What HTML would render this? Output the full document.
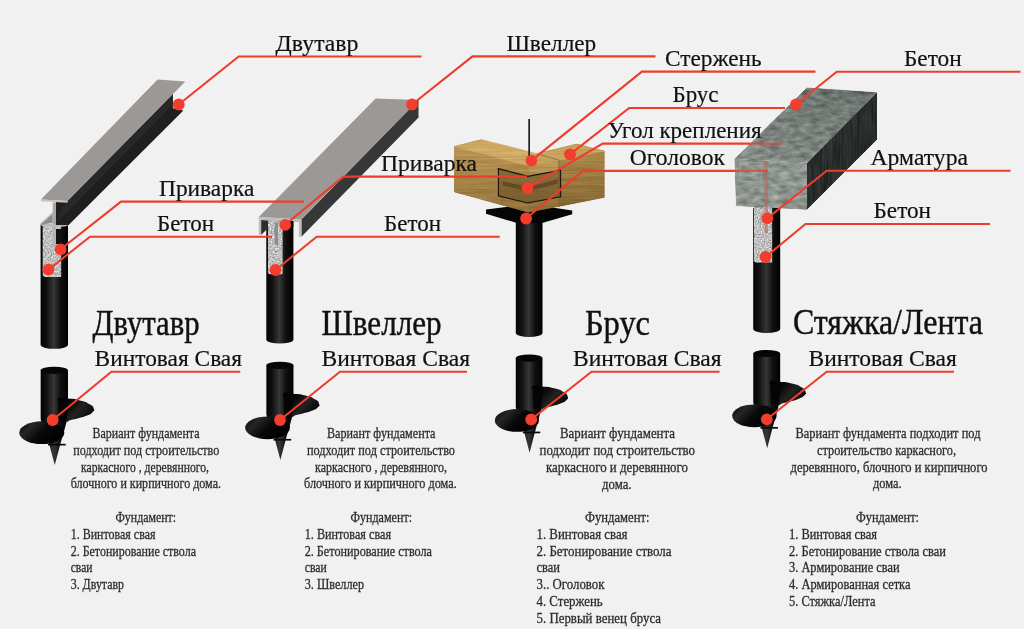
<!DOCTYPE html>
<html lang="ru"><head><meta charset="utf-8"><title>Винтовая свая — варианты фундамента</title>
<style>
html,body{margin:0;padding:0;background:#f1f1f1;}
body{width:1024px;height:629px;overflow:hidden;}
svg{display:block;will-change:transform;font-family:"Liberation Serif","DejaVu Serif",serif;}
</style></head><body>
<svg width="1024" height="629" viewBox="0 0 1024 629">
<defs>
<linearGradient id="cyl" x1="0" x2="1" y1="0" y2="0">
<stop offset="0" stop-color="#030303"/><stop offset="0.22" stop-color="#111"/><stop offset="0.48" stop-color="#373737"/><stop offset="0.72" stop-color="#101010"/><stop offset="1" stop-color="#010101"/>
</linearGradient>
<linearGradient id="bladeU" x1="0" x2="1" y1="0" y2="0.6">
<stop offset="0" stop-color="#000"/><stop offset="0.35" stop-color="#080808"/><stop offset="0.65" stop-color="#222"/><stop offset="1" stop-color="#060606"/>
</linearGradient>
<linearGradient id="bladeL" x1="0" x2="1" y1="0" y2="0.5">
<stop offset="0" stop-color="#020202"/><stop offset="0.3" stop-color="#262626"/><stop offset="0.6" stop-color="#080808"/><stop offset="1" stop-color="#000"/>
</linearGradient>
<filter id="speck" x="0" y="0" width="100%" height="100%" color-interpolation-filters="sRGB">
<feTurbulence type="fractalNoise" baseFrequency="0.7" numOctaves="2" seed="3" result="n"/>
<feColorMatrix in="n" type="matrix" values="1 0 0 0 0  1 0 0 0 0  1 0 0 0 0  0 0 0 0 1" result="g"/>
<feComposite in="SourceGraphic" in2="g" operator="arithmetic" k1="0" k2="1" k3="0.7" k4="-0.33" result="c"/>
<feComposite in="c" in2="SourceGraphic" operator="in"/>
</filter>
<filter id="stone" x="0" y="0" width="100%" height="100%" color-interpolation-filters="sRGB">
<feTurbulence type="fractalNoise" baseFrequency="0.10 0.22" numOctaves="4" seed="7" result="n"/>
<feColorMatrix in="n" type="matrix" values="1 0 0 0 0  1 0 0 0 0  1 0 0 0 0  0 0 0 0 1" result="g"/>
<feComposite in="SourceGraphic" in2="g" operator="arithmetic" k1="0" k2="1" k3="0.34" k4="-0.17" result="c"/>
<feComposite in="c" in2="SourceGraphic" operator="in"/>
</filter>
<filter id="stoned" x="0" y="0" width="100%" height="100%" color-interpolation-filters="sRGB">
<feTurbulence type="fractalNoise" baseFrequency="0.45 0.03" numOctaves="3" seed="11" result="n"/>
<feColorMatrix in="n" type="matrix" values="1 0 0 0 0  1 0 0 0 0  1 0 0 0 0  0 0 0 0 1" result="g"/>
<feComposite in="SourceGraphic" in2="g" operator="arithmetic" k1="0" k2="1" k3="0.16" k4="-0.08" result="c"/>
<feComposite in="c" in2="SourceGraphic" operator="in"/>
</filter>
<filter id="grain" x="0" y="0" width="100%" height="100%" color-interpolation-filters="sRGB">
<feTurbulence type="fractalNoise" baseFrequency="0.02 0.55" numOctaves="3" seed="5" result="n"/>
<feColorMatrix in="n" type="matrix" values="1 0 0 0 0  1 0 0 0 0  1 0 0 0 0  0 0 0 0 1" result="g"/>
<feComposite in="SourceGraphic" in2="g" operator="arithmetic" k1="0" k2="1" k3="0.16" k4="-0.08" result="c"/>
<feComposite in="c" in2="SourceGraphic" operator="in"/>
</filter>
<linearGradient id="ctop" x1="0.7" x2="0.3" y1="0" y2="1"><stop offset="0" stop-color="#6c736f"/><stop offset="1" stop-color="#838a85"/></linearGradient>
<linearGradient id="woodL" x1="0" x2="0" y1="0" y2="1"><stop offset="0" stop-color="#bb9755"/><stop offset="1" stop-color="#93723b"/></linearGradient>
<linearGradient id="woodM" x1="0" x2="0" y1="0" y2="1"><stop offset="0" stop-color="#c09c59"/><stop offset="1" stop-color="#8d6d37"/></linearGradient>
<linearGradient id="woodR" x1="0" x2="0" y1="0" y2="1"><stop offset="0" stop-color="#aa8748"/><stop offset="1" stop-color="#846632"/></linearGradient>

</defs>
<rect width="1024" height="629" fill="#f1f1f1"/>

<path d="M40.6,224.5 L40.6,344.8 A13.7,4 0 0 0 68.0,344.8 L68.0,224.5 Z" fill="url(#cyl)"/>
<g transform="translate(54.3,367.4) scale(1.022,1)"><path d="M-13.34,2.91 L-13.34,51.69 L-11.34,60.60 L-4.88,77.08 L0.47,97.57 L5.81,77.08 L9.82,62.82 L12.72,51.69 L13.38,36.10 L13.38,2.91 Z" fill="url(#cyl)"/><ellipse cx="0" cy="2.9" rx="13.36" ry="3.6" fill="#060606"/><path d="M3.36,31.42 C5.14,28.67 5.51,30.68 12.72,31.20 C19.92,31.72 17.69,31.12 24.96,32.98 C32.24,34.83 30.01,34.02 34.54,36.76 C39.07,39.51 37.66,38.47 38.55,41.22 C39.44,43.97 39.59,42.63 37.21,45.01 C34.84,47.38 36.03,46.42 31.42,48.35 C26.82,50.28 28.53,49.39 23.41,50.80 C18.28,52.21 19.92,51.54 16.06,52.58 C12.20,53.62 13.83,55.70 11.82,53.91 C9.82,52.13 11.53,52.06 10.04,47.23 C8.56,42.41 9.60,44.71 7.37,39.44 C5.14,34.17 1.58,34.17 3.36,31.42 Z" fill="url(#bladeU)"/><path d="M3.36,31.42 L4.36,53.42 L11.82,53.91 L13.37,39.44 Z" fill="#050505"/><ellipse cx="-12.23" cy="65.27" rx="22.05" ry="11.36" fill="url(#bladeL)"/><path d="M-6.22,76.41 L11.16,76.41 L11.16,78.08 L-6.22,78.08 Z" fill="#070707"/></g>
<path d="M266.3,221 L266.3,339.9 A13.6,4 0 0 0 293.4,339.9 L293.4,221 Z" fill="url(#cyl)"/>
<g transform="translate(279.9,362.5) scale(1.014,1)"><path d="M-13.34,2.91 L-13.34,51.69 L-11.34,60.60 L-4.88,77.08 L0.47,97.57 L5.81,77.08 L9.82,62.82 L12.72,51.69 L13.38,36.10 L13.38,2.91 Z" fill="url(#cyl)"/><ellipse cx="0" cy="2.9" rx="13.36" ry="3.6" fill="#060606"/><path d="M3.36,31.42 C5.14,28.67 5.51,30.68 12.72,31.20 C19.92,31.72 17.69,31.12 24.96,32.98 C32.24,34.83 30.01,34.02 34.54,36.76 C39.07,39.51 37.66,38.47 38.55,41.22 C39.44,43.97 39.59,42.63 37.21,45.01 C34.84,47.38 36.03,46.42 31.42,48.35 C26.82,50.28 28.53,49.39 23.41,50.80 C18.28,52.21 19.92,51.54 16.06,52.58 C12.20,53.62 13.83,55.70 11.82,53.91 C9.82,52.13 11.53,52.06 10.04,47.23 C8.56,42.41 9.60,44.71 7.37,39.44 C5.14,34.17 1.58,34.17 3.36,31.42 Z" fill="url(#bladeU)"/><path d="M3.36,31.42 L4.36,53.42 L11.82,53.91 L13.37,39.44 Z" fill="#050505"/><ellipse cx="-12.23" cy="65.27" rx="22.05" ry="11.36" fill="url(#bladeL)"/><path d="M-6.22,76.41 L11.16,76.41 L11.16,78.08 L-6.22,78.08 Z" fill="#070707"/></g>
<path d="M515.8,214 L515.8,332.9 A13.3,4 0 0 0 542.5,332.9 L542.5,214 Z" fill="url(#cyl)"/>
<g transform="translate(529.1,355.2) scale(0.999,1)"><path d="M-13.34,2.91 L-13.34,51.69 L-11.34,60.60 L-4.88,77.08 L0.47,97.57 L5.81,77.08 L9.82,62.82 L12.72,51.69 L13.38,36.10 L13.38,2.91 Z" fill="url(#cyl)"/><ellipse cx="0" cy="2.9" rx="13.36" ry="3.6" fill="#060606"/><path d="M3.36,31.42 C5.14,28.67 5.51,30.68 12.72,31.20 C19.92,31.72 17.69,31.12 24.96,32.98 C32.24,34.83 30.01,34.02 34.54,36.76 C39.07,39.51 37.66,38.47 38.55,41.22 C39.44,43.97 39.59,42.63 37.21,45.01 C34.84,47.38 36.03,46.42 31.42,48.35 C26.82,50.28 28.53,49.39 23.41,50.80 C18.28,52.21 19.92,51.54 16.06,52.58 C12.20,53.62 13.83,55.70 11.82,53.91 C9.82,52.13 11.53,52.06 10.04,47.23 C8.56,42.41 9.60,44.71 7.37,39.44 C5.14,34.17 1.58,34.17 3.36,31.42 Z" fill="url(#bladeU)"/><path d="M3.36,31.42 L4.36,53.42 L11.82,53.91 L13.37,39.44 Z" fill="#050505"/><ellipse cx="-12.23" cy="65.27" rx="22.05" ry="11.36" fill="url(#bladeL)"/><path d="M-6.22,76.41 L11.16,76.41 L11.16,78.08 L-6.22,78.08 Z" fill="#070707"/></g>
<path d="M753.2,208 L753.2,329.0 A13.4,4 0 0 0 780.2,329.0 L780.2,208 Z" fill="url(#cyl)"/>
<g transform="translate(766.7,350.6) scale(1.007,1)"><path d="M-13.34,2.91 L-13.34,51.69 L-11.34,60.60 L-4.88,77.08 L0.47,97.57 L5.81,77.08 L9.82,62.82 L12.72,51.69 L13.38,36.10 L13.38,2.91 Z" fill="url(#cyl)"/><ellipse cx="0" cy="2.9" rx="13.36" ry="3.6" fill="#060606"/><path d="M3.36,31.42 C5.14,28.67 5.51,30.68 12.72,31.20 C19.92,31.72 17.69,31.12 24.96,32.98 C32.24,34.83 30.01,34.02 34.54,36.76 C39.07,39.51 37.66,38.47 38.55,41.22 C39.44,43.97 39.59,42.63 37.21,45.01 C34.84,47.38 36.03,46.42 31.42,48.35 C26.82,50.28 28.53,49.39 23.41,50.80 C18.28,52.21 19.92,51.54 16.06,52.58 C12.20,53.62 13.83,55.70 11.82,53.91 C9.82,52.13 11.53,52.06 10.04,47.23 C8.56,42.41 9.60,44.71 7.37,39.44 C5.14,34.17 1.58,34.17 3.36,31.42 Z" fill="url(#bladeU)"/><path d="M3.36,31.42 L4.36,53.42 L11.82,53.91 L13.37,39.44 Z" fill="#050505"/><ellipse cx="-12.23" cy="65.27" rx="22.05" ry="11.36" fill="url(#bladeL)"/><path d="M-6.22,76.41 L11.16,76.41 L11.16,78.08 L-6.22,78.08 Z" fill="#070707"/></g>
<polygon points="55.9,201.5 67.6,200.9 172.9,94 172.9,108.2 183.4,110.6 68.9,224.7 55.9,223.4" fill="#1f1f1f"/>
<polygon points="62,206.6 172.9,94 172.9,104.6 57,222.4" fill="#282828"/>
<polygon points="40.9,199.5 67.6,200.9 185.3,81.4 157.6,79.5" fill="#9b9896"/>
<polygon points="40.9,199.5 67.6,200.9 67.6,202.8 40.9,201.3" fill="#c4c2c0"/>
<polygon points="41.2,222.8 52.7,212.5 52.7,223 41.2,224.5" fill="#8d8b89"/>
<polygon points="41.2,222.8 52.7,212.5 52.7,213.8 42.4,223.2" fill="#c9c8c6"/>
<rect x="52.7" y="202.6" width="3.3" height="44" fill="#a9a7a5"/>
<path d="M42.4,226 L61.4,226 L61.4,277 L45.5,277 Q42.4,277 42.4,273.5 Z" fill="#bababa" filter="url(#speck)"/>
<rect x="56" y="229" width="6" height="15" fill="#111"/>
<rect x="52.7" y="224" width="3.3" height="23" fill="#b5b3b1"/>
<ellipse cx="54.3" cy="225.3" rx="13.6" ry="1.6" fill="#bdbdbd"/>
<rect x="55.9" y="222.6" width="13" height="2.4" fill="#1e1e1e"/>
<polygon points="258.7,216.9 300.9,219.4 418.5,100 375.7,98.4" fill="#9b9896"/>
<polygon points="301.4,219.4 301.4,236.7 418.5,117.5 418.5,100" fill="#353837"/>
<path d="M258.7,216.9 L301.4,219.4 L301.4,236.7 L298.9,236.7 L298.9,222.2 L261.2,220 L261.2,234.7 L258.7,234.7 Z" fill="#c0bfbd"/>
<polygon points="261.2,220 267.8,220.4 267.8,228.6 261.2,234.7" fill="#2d2d2d"/>
<path d="M267.8,220.4 L282.8,221.3 L282.8,274.5 L270.5,274.5 Q267.8,274.5 267.8,271.5 Z" fill="#bababa" filter="url(#speck)"/>
<rect x="282.8" y="221" width="10.5" height="6" fill="#000"/>
<rect x="274.9" y="222.5" width="3.1" height="22.4" fill="#8e8e8e"/>
<polygon points="486,209.6 529,204 572.2,210.6 572.2,214.2 543,222.8 516.2,222.8 486,213.8" fill="#050505"/>
<g filter="url(#grain)">
<polygon points="454.5,146.3 528.2,165.7 528.2,212.3 454.5,192.0" fill="url(#woodL)" stroke="url(#woodL)" stroke-width="0.8" stroke-linejoin="round"/>
<polygon points="528.2,165.7 558.9,160.0 558.9,206.4 528.2,212.3" fill="url(#woodM)" stroke="url(#woodM)" stroke-width="0.8" stroke-linejoin="round"/>
<polygon points="558.9,160.0 604.3,151.0 604.3,197.4 558.9,206.4" fill="url(#woodR)" stroke="url(#woodR)" stroke-width="0.8" stroke-linejoin="round"/>
<polygon points="454.5,146.3 481.3,139.6 536.2,153.5 528.2,165.7" fill="#cda964" stroke="#cda964" stroke-width="0.8" stroke-linejoin="round"/>
<polygon points="536.2,153.5 576.7,144.0 604.3,151.0 558.9,160.2 528.2,165.7" fill="#c8a35e" stroke="#c8a35e" stroke-width="0.8" stroke-linejoin="round"/>
</g>
<polyline points="541.4,155.0 558.9,160.2 558.9,206.4" fill="none" stroke="#86683a" stroke-width="0.8"/>
<polyline points="528.2,165.7 528.2,212.3" fill="none" stroke="#a17e45" stroke-width="0.7"/>
<polyline points="481.3,139.6 536.2,153.5" fill="none" stroke="#e0c58a" stroke-width="0.5"/>
<polygon points="498.4,168.6 527.8,176.4 560.6,170.2 560.6,196.7 527.8,203 498.4,195.9" fill="#5f4822" opacity="0.52"/>
<polygon points="502.5,181.3 527.8,187 557.5,179.6 557.5,183.8 527.8,191.2 502.5,185.5" fill="#4e3b1b" opacity="0.6"/>
<polyline points="502.3,181.5 502.3,205" fill="none" stroke="#7d6234" stroke-width="0.7"/>
<polygon points="498.4,168.6 527.8,176.4 560.6,170.2 560.6,196.7 527.8,203 498.4,195.9" fill="none" stroke="#17120a" stroke-width="1.1"/>
<rect x="528.3" y="119" width="1.7" height="38" fill="#222"/>
<polygon points="807,87.6 877,92.2 807,162.7 734.5,158.9" fill="url(#ctop)" filter="url(#stone)"/>
<polygon points="734.5,158.9 807,162.7 807,209.7 736,206" fill="#8d948e" filter="url(#stone)"/>
<polygon points="807,162.7 877,92.2 877,139.8 807,209.7" fill="#282c2a" filter="url(#stoned)"/>
<path d="M753.8,207 L772.4,208 L772.4,262.8 L756.5,262.8 Q753.8,262.8 753.8,260 Z" fill="#bababa" filter="url(#speck)"/>
<rect x="764.3" y="161" width="3.6" height="72" fill="#b06a5c" opacity="0.6"/>
<rect x="740.5" y="162.5" width="21" height="19" fill="none" stroke="#a9aeaa" stroke-width="0.8" opacity="0.7"/>
<polyline points="178.7,104.5 238.7,56.5 421.5,56.5" fill="none" stroke="#ec3d2d" stroke-width="2.1"/>
<circle cx="178.7" cy="104.5" r="5.9" fill="#f43e2d"/>
<polyline points="412.0,104.5 472.5,56.4 655.5,56.4" fill="none" stroke="#ec3d2d" stroke-width="2.1"/>
<circle cx="412.0" cy="104.5" r="5.9" fill="#f43e2d"/>
<polyline points="531.4,160.6 641.9,71.6 815.5,71.6" fill="none" stroke="#ec3d2d" stroke-width="2.1"/>
<circle cx="531.4" cy="160.6" r="5.9" fill="#f43e2d"/>
<polyline points="570.0,154.3 629.2,108.0 785.0,108.0" fill="none" stroke="#ec3d2d" stroke-width="2.1"/>
<circle cx="570.0" cy="154.3" r="5.9" fill="#f43e2d"/>
<polyline points="527.4,188.0 602.7,143.6 750.1,143.6" fill="none" stroke="#ec3d2d" stroke-width="2.1"/>
<line x1="750.1" y1="143.6" x2="781.6" y2="143.6" stroke="#ec3d2d" stroke-width="2.1" opacity="0.68"/>
<circle cx="527.4" cy="188.0" r="5.9" fill="#f43e2d"/>
<polyline points="526.1,218.5 582.8,170.9 735.0,170.9" fill="none" stroke="#ec3d2d" stroke-width="2.1"/>
<line x1="735.0" y1="170.9" x2="767.6" y2="170.9" stroke="#ec3d2d" stroke-width="2.1" opacity="0.68"/>
<circle cx="526.1" cy="218.5" r="5.9" fill="#f43e2d"/>
<polyline points="796.0,104.5 836.7,71.7 1020.5,71.7" fill="none" stroke="#ec3d2d" stroke-width="2.1"/>
<circle cx="796.0" cy="104.5" r="5.9" fill="#f43e2d"/>
<polyline points="767.2,218.4 826.7,170.8 1010.5,170.8" fill="none" stroke="#ec3d2d" stroke-width="2.1"/>
<circle cx="767.2" cy="218.4" r="5.9" fill="#f43e2d"/>
<polyline points="765.5,257.0 805.5,224.0 990.0,224.0" fill="none" stroke="#ec3d2d" stroke-width="2.1"/>
<circle cx="765.5" cy="257.0" r="5.9" fill="#f43e2d"/>
<polyline points="60.6,249.3 121.0,201.6 303.9,201.6" fill="none" stroke="#ec3d2d" stroke-width="2.1"/>
<circle cx="60.6" cy="249.3" r="5.9" fill="#f43e2d"/>
<polyline points="48.4,269.6 90.0,236.8 272.0,236.8" fill="none" stroke="#ec3d2d" stroke-width="2.1"/>
<circle cx="48.4" cy="269.6" r="5.9" fill="#f43e2d"/>
<polyline points="285.2,224.8 343.5,176.6 527.0,176.6" fill="none" stroke="#ec3d2d" stroke-width="2.1"/>
<circle cx="285.2" cy="224.8" r="5.9" fill="#f43e2d"/>
<polyline points="275.5,270.0 316.7,236.8 499.7,236.8" fill="none" stroke="#ec3d2d" stroke-width="2.1"/>
<circle cx="275.5" cy="270.0" r="5.9" fill="#f43e2d"/>
<polyline points="52.6,420.0 111.4,371.7 240.3,371.7" fill="none" stroke="#ec3d2d" stroke-width="2.1"/>
<circle cx="52.6" cy="420.0" r="5.9" fill="#f43e2d"/>
<polyline points="280.0,420.0 340.0,371.7 467.0,371.7" fill="none" stroke="#ec3d2d" stroke-width="2.1"/>
<circle cx="280.0" cy="420.0" r="5.9" fill="#f43e2d"/>
<polyline points="531.2,419.5 591.5,371.7 719.5,371.7" fill="none" stroke="#ec3d2d" stroke-width="2.1"/>
<circle cx="531.2" cy="419.5" r="5.9" fill="#f43e2d"/>
<polyline points="766.8,419.3 826.7,371.7 954.0,371.7" fill="none" stroke="#ec3d2d" stroke-width="2.1"/>
<circle cx="766.8" cy="419.3" r="5.9" fill="#f43e2d"/>
<text x="275.6" y="51.2" font-size="23.5" textLength="82.9" lengthAdjust="spacingAndGlyphs" fill="#111" stroke="#111" stroke-width="0.2">Двутавр</text>
<text x="506.4" y="51.0" font-size="23.5" textLength="89.8" lengthAdjust="spacingAndGlyphs" fill="#111" stroke="#111" stroke-width="0.2">Швеллер</text>
<text x="665.0" y="66.0" font-size="23.5" textLength="96.6" lengthAdjust="spacingAndGlyphs" fill="#111" stroke="#111" stroke-width="0.2">Стержень</text>
<text x="672.5" y="102.2" font-size="23.5" textLength="46.0" lengthAdjust="spacingAndGlyphs" fill="#111" stroke="#111" stroke-width="0.2">Брус</text>
<text x="607.8" y="137.8" font-size="23.5" textLength="153.8" lengthAdjust="spacingAndGlyphs" fill="#111" stroke="#111" stroke-width="0.2">Угол крепления</text>
<text x="629.8" y="164.5" font-size="23.5" textLength="95.2" lengthAdjust="spacingAndGlyphs" fill="#111" stroke="#111" stroke-width="0.2">Оголовок</text>
<text x="904.0" y="65.6" font-size="23.5" textLength="57.7" lengthAdjust="spacingAndGlyphs" fill="#111" stroke="#111" stroke-width="0.2">Бетон</text>
<text x="870.5" y="164.5" font-size="23.5" textLength="97.5" lengthAdjust="spacingAndGlyphs" fill="#111" stroke="#111" stroke-width="0.2">Арматура</text>
<text x="873.5" y="218.2" font-size="23.5" textLength="57.5" lengthAdjust="spacingAndGlyphs" fill="#111" stroke="#111" stroke-width="0.2">Бетон</text>
<text x="159.0" y="195.5" font-size="23.5" textLength="95.3" lengthAdjust="spacingAndGlyphs" fill="#111" stroke="#111" stroke-width="0.2">Приварка</text>
<text x="157.0" y="230.8" font-size="23.5" textLength="57.0" lengthAdjust="spacingAndGlyphs" fill="#111" stroke="#111" stroke-width="0.2">Бетон</text>
<text x="381.0" y="171.0" font-size="23.5" textLength="96.0" lengthAdjust="spacingAndGlyphs" fill="#111" stroke="#111" stroke-width="0.2">Приварка</text>
<text x="384.0" y="230.8" font-size="23.5" textLength="57.0" lengthAdjust="spacingAndGlyphs" fill="#111" stroke="#111" stroke-width="0.2">Бетон</text>
<text x="92.5" y="334.9" font-size="36.3" textLength="107.1" lengthAdjust="spacingAndGlyphs" fill="#111" stroke="#111" stroke-width="0.45">Двутавр</text>
<text x="321.5" y="334.7" font-size="36.3" textLength="120.0" lengthAdjust="spacingAndGlyphs" fill="#111" stroke="#111" stroke-width="0.45">Швеллер</text>
<text x="585.0" y="334.6" font-size="36.3" textLength="65.0" lengthAdjust="spacingAndGlyphs" fill="#111" stroke="#111" stroke-width="0.45">Брус</text>
<text x="793.0" y="334.3" font-size="36.3" textLength="190.0" lengthAdjust="spacingAndGlyphs" fill="#111" stroke="#111" stroke-width="0.45">Стяжка/Лента</text>
<text x="94.6" y="365.6" font-size="22.9" textLength="147.4" lengthAdjust="spacingAndGlyphs" fill="#111" stroke="#111" stroke-width="0.2">Винтовая Свая</text>
<text x="321.5" y="365.6" font-size="22.9" textLength="148.5" lengthAdjust="spacingAndGlyphs" fill="#111" stroke="#111" stroke-width="0.2">Винтовая Свая</text>
<text x="573.0" y="365.6" font-size="22.9" textLength="148.5" lengthAdjust="spacingAndGlyphs" fill="#111" stroke="#111" stroke-width="0.2">Винтовая Свая</text>
<text x="808.5" y="365.6" font-size="22.9" textLength="148.2" lengthAdjust="spacingAndGlyphs" fill="#111" stroke="#111" stroke-width="0.2">Винтовая Свая</text>
<text x="92.5" y="438.0" font-size="14.3" textLength="107.0" lengthAdjust="spacingAndGlyphs" fill="#2c2c2c" stroke="#2c2c2c" stroke-width="0.28">Вариант фундамента</text>
<text x="73.2" y="455.0" font-size="14.3" textLength="146.1" lengthAdjust="spacingAndGlyphs" fill="#2c2c2c" stroke="#2c2c2c" stroke-width="0.28">подходит под строительство</text>
<text x="81.0" y="471.6" font-size="14.3" textLength="128.0" lengthAdjust="spacingAndGlyphs" fill="#2c2c2c" stroke="#2c2c2c" stroke-width="0.28">каркасного , деревянного,</text>
<text x="70.7" y="488.2" font-size="14.3" textLength="150.3" lengthAdjust="spacingAndGlyphs" fill="#2c2c2c" stroke="#2c2c2c" stroke-width="0.28">блочного и кирпичного дома.</text>
<text x="115.5" y="522.3" font-size="14.3" textLength="60.5" lengthAdjust="spacingAndGlyphs" fill="#2c2c2c" stroke="#2c2c2c" stroke-width="0.28">Фундамент:</text>
<text x="70.7" y="539.3" font-size="14.3" textLength="84.8" lengthAdjust="spacingAndGlyphs" fill="#2c2c2c" stroke="#2c2c2c" stroke-width="0.28">1. Винтовая свая</text>
<text x="70.7" y="555.7" font-size="14.3" textLength="125.3" lengthAdjust="spacingAndGlyphs" fill="#2c2c2c" stroke="#2c2c2c" stroke-width="0.28">2. Бетонирование ствола</text>
<text x="70.7" y="572.4" font-size="14.3" textLength="21.8" lengthAdjust="spacingAndGlyphs" fill="#2c2c2c" stroke="#2c2c2c" stroke-width="0.28">сваи</text>
<text x="70.7" y="589.1" font-size="14.3" textLength="53.3" lengthAdjust="spacingAndGlyphs" fill="#2c2c2c" stroke="#2c2c2c" stroke-width="0.28">3. Двутавр</text>
<text x="327.0" y="438.0" font-size="14.3" textLength="108.5" lengthAdjust="spacingAndGlyphs" fill="#2c2c2c" stroke="#2c2c2c" stroke-width="0.28">Вариант фундамента</text>
<text x="307.0" y="455.0" font-size="14.3" textLength="148.0" lengthAdjust="spacingAndGlyphs" fill="#2c2c2c" stroke="#2c2c2c" stroke-width="0.28">подходит под строительство</text>
<text x="315.0" y="471.6" font-size="14.3" textLength="132.0" lengthAdjust="spacingAndGlyphs" fill="#2c2c2c" stroke="#2c2c2c" stroke-width="0.28">каркасного , деревянного,</text>
<text x="304.0" y="488.2" font-size="14.3" textLength="152.7" lengthAdjust="spacingAndGlyphs" fill="#2c2c2c" stroke="#2c2c2c" stroke-width="0.28">блочного и кирпичного дома.</text>
<text x="350.5" y="522.3" font-size="14.3" textLength="61.5" lengthAdjust="spacingAndGlyphs" fill="#2c2c2c" stroke="#2c2c2c" stroke-width="0.28">Фундамент:</text>
<text x="304.7" y="539.3" font-size="14.3" textLength="86.3" lengthAdjust="spacingAndGlyphs" fill="#2c2c2c" stroke="#2c2c2c" stroke-width="0.28">1. Винтовая свая</text>
<text x="304.7" y="555.7" font-size="14.3" textLength="127.3" lengthAdjust="spacingAndGlyphs" fill="#2c2c2c" stroke="#2c2c2c" stroke-width="0.28">2. Бетонирование ствола</text>
<text x="304.7" y="572.4" font-size="14.3" textLength="22.0" lengthAdjust="spacingAndGlyphs" fill="#2c2c2c" stroke="#2c2c2c" stroke-width="0.28">сваи</text>
<text x="304.7" y="589.1" font-size="14.3" textLength="59.3" lengthAdjust="spacingAndGlyphs" fill="#2c2c2c" stroke="#2c2c2c" stroke-width="0.28">3. Швеллер</text>
<text x="560.0" y="438.4" font-size="14.3" textLength="115.0" lengthAdjust="spacingAndGlyphs" fill="#2c2c2c" stroke="#2c2c2c" stroke-width="0.28">Вариант фундамента</text>
<text x="539.5" y="455.4" font-size="14.3" textLength="155.5" lengthAdjust="spacingAndGlyphs" fill="#2c2c2c" stroke="#2c2c2c" stroke-width="0.28">подходит под строительство</text>
<text x="546.0" y="472.0" font-size="14.3" textLength="142.0" lengthAdjust="spacingAndGlyphs" fill="#2c2c2c" stroke="#2c2c2c" stroke-width="0.28">каркасного и деревянного</text>
<text x="602.0" y="488.6" font-size="14.3" textLength="29.5" lengthAdjust="spacingAndGlyphs" fill="#2c2c2c" stroke="#2c2c2c" stroke-width="0.28">дома.</text>
<text x="585.0" y="522.3" font-size="14.3" textLength="64.5" lengthAdjust="spacingAndGlyphs" fill="#2c2c2c" stroke="#2c2c2c" stroke-width="0.28">Фундамент:</text>
<text x="536.5" y="539.3" font-size="14.3" textLength="91.0" lengthAdjust="spacingAndGlyphs" fill="#2c2c2c" stroke="#2c2c2c" stroke-width="0.28">1. Винтовая свая</text>
<text x="536.5" y="555.7" font-size="14.3" textLength="135.0" lengthAdjust="spacingAndGlyphs" fill="#2c2c2c" stroke="#2c2c2c" stroke-width="0.28">2. Бетонирование ствола</text>
<text x="536.5" y="572.4" font-size="14.3" textLength="23.5" lengthAdjust="spacingAndGlyphs" fill="#2c2c2c" stroke="#2c2c2c" stroke-width="0.28">сваи</text>
<text x="536.5" y="589.1" font-size="14.3" textLength="68.0" lengthAdjust="spacingAndGlyphs" fill="#2c2c2c" stroke="#2c2c2c" stroke-width="0.28">3.. Оголовок</text>
<text x="536.5" y="606.4" font-size="14.3" textLength="66.2" lengthAdjust="spacingAndGlyphs" fill="#2c2c2c" stroke="#2c2c2c" stroke-width="0.28">4. Стержень</text>
<text x="536.5" y="623.1" font-size="14.3" textLength="124.5" lengthAdjust="spacingAndGlyphs" fill="#2c2c2c" stroke="#2c2c2c" stroke-width="0.28">5. Первый венец бруса</text>
<text x="795.5" y="438.2" font-size="14.3" textLength="185.0" lengthAdjust="spacingAndGlyphs" fill="#2c2c2c" stroke="#2c2c2c" stroke-width="0.28">Вариант фундамента подходит под</text>
<text x="817.0" y="454.9" font-size="14.3" textLength="139.0" lengthAdjust="spacingAndGlyphs" fill="#2c2c2c" stroke="#2c2c2c" stroke-width="0.28">строительство каркасного,</text>
<text x="790.5" y="471.5" font-size="14.3" textLength="197.0" lengthAdjust="spacingAndGlyphs" fill="#2c2c2c" stroke="#2c2c2c" stroke-width="0.28">деревянного, блочного и кирпичного</text>
<text x="873.0" y="488.0" font-size="14.3" textLength="28.7" lengthAdjust="spacingAndGlyphs" fill="#2c2c2c" stroke="#2c2c2c" stroke-width="0.28">дома.</text>
<text x="856.0" y="522.0" font-size="14.3" textLength="63.0" lengthAdjust="spacingAndGlyphs" fill="#2c2c2c" stroke="#2c2c2c" stroke-width="0.28">Фундамент:</text>
<text x="789.0" y="538.8" font-size="14.3" textLength="88.0" lengthAdjust="spacingAndGlyphs" fill="#2c2c2c" stroke="#2c2c2c" stroke-width="0.28">1. Винтовая свая</text>
<text x="789.0" y="555.7" font-size="14.3" textLength="157.0" lengthAdjust="spacingAndGlyphs" fill="#2c2c2c" stroke="#2c2c2c" stroke-width="0.28">2. Бетонирование ствола сваи</text>
<text x="789.0" y="572.2" font-size="14.3" textLength="110.7" lengthAdjust="spacingAndGlyphs" fill="#2c2c2c" stroke="#2c2c2c" stroke-width="0.28">3. Армирование сваи</text>
<text x="789.0" y="589.0" font-size="14.3" textLength="121.5" lengthAdjust="spacingAndGlyphs" fill="#2c2c2c" stroke="#2c2c2c" stroke-width="0.28">4. Армированная сетка</text>
<text x="789.0" y="605.7" font-size="14.3" textLength="86.5" lengthAdjust="spacingAndGlyphs" fill="#2c2c2c" stroke="#2c2c2c" stroke-width="0.28">5. Стяжка/Лента</text>
</svg></body></html>
